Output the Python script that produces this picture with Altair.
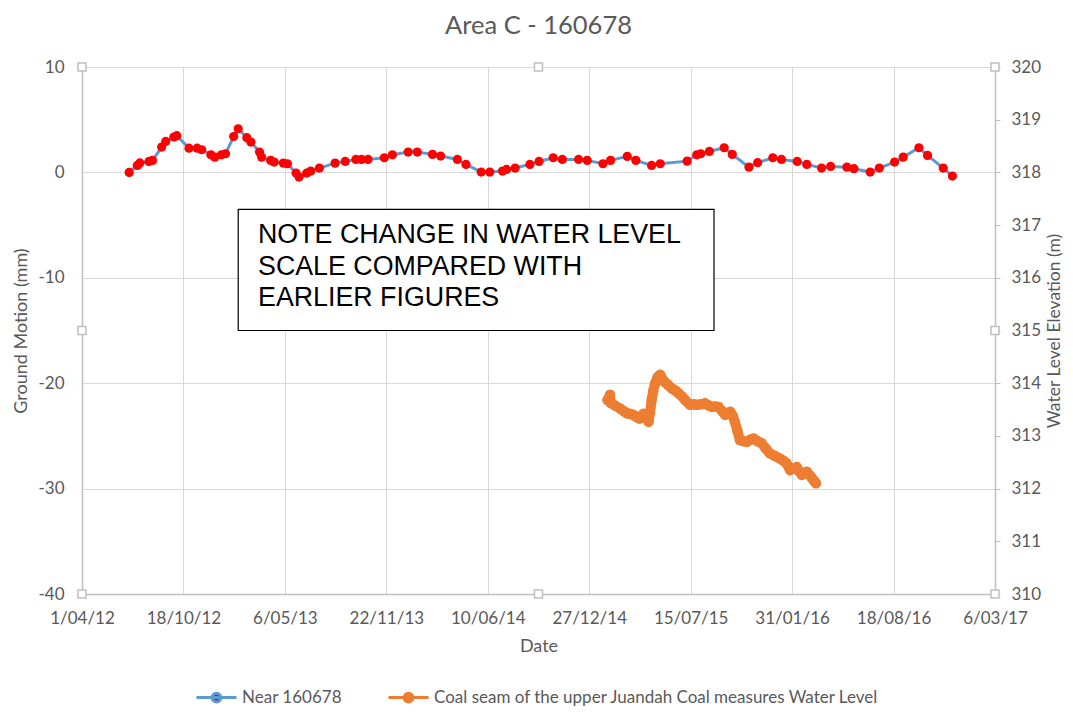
import altair as alt
import pandas as pd

START = pd.Timestamp("2012-04-01")

# Ground motion (left axis), days since 1/04/12
gm_days = [93, 109, 114, 132, 139, 157, 165, 181, 187, 211,
           227, 236, 254, 262, 275, 283, 299, 308, 325, 333,
           350, 354, 372, 379, 397, 405, 422, 428, 443, 451,
           468, 499, 519, 540, 551, 564, 596, 612, 643, 661,
           691, 707, 740, 757, 787, 804, 829, 837, 854, 883,
           901, 929, 947, 979, 996, 1027, 1042, 1075, 1092, 1123,
           1140, 1193, 1212, 1220, 1237, 1266, 1282, 1315, 1332, 1362,
           1379, 1410, 1429, 1458, 1476, 1508, 1522, 1554, 1572, 1602,
           1619, 1650, 1667, 1698, 1716]
gm_mm = [0.0, 0.66, 0.9, 1.04, 1.14, 2.4, 2.94, 3.35, 3.48, 2.3,
         2.3, 2.15, 1.67, 1.45, 1.67, 1.77, 3.4, 4.14, 3.29, 2.88,
         1.93, 1.45, 1.14, 0.98, 0.88, 0.82, -0.06, -0.44, -0.06, 0.13,
         0.41, 0.88, 1.04, 1.23, 1.23, 1.23, 1.39, 1.67, 1.93, 1.93,
         1.71, 1.55, 1.23, 0.76, 0.03, 0.03, 0.13, 0.28, 0.41, 0.76,
         1.04, 1.39, 1.23, 1.23, 1.14, 0.82, 1.14, 1.52, 1.14, 0.66,
         0.82, 1.07, 1.67, 1.77, 1.99, 2.34, 1.71, 0.5, 0.92, 1.39,
         1.23, 1.04, 0.76, 0.41, 0.57, 0.5, 0.35, 0.03, 0.41, 0.98,
         1.45, 2.34, 1.61, 0.41, -0.35]

# Water level (right axis)
wl_days = [1036, 1041, 1042, 1050, 1061, 1068, 1074, 1080, 1087, 1093,
           1099, 1103, 1107, 1112, 1117, 1120, 1123, 1126, 1130, 1135,
           1140, 1148, 1155, 1163, 1170, 1176, 1183, 1189, 1199, 1206,
           1212, 1220, 1228, 1235, 1242, 1249, 1255, 1262, 1268, 1273,
           1278, 1283, 1287, 1292, 1297, 1304, 1311, 1318, 1324, 1332,
           1340, 1348, 1356, 1366, 1376, 1383, 1389, 1396, 1402, 1409,
           1414, 1419, 1424, 1429, 1434, 1439, 1443, 1447]
wl_m = [313.68, 313.78, 313.63, 313.58, 313.52, 313.47, 313.43, 313.42, 313.40, 313.36,
        313.33, 313.38, 313.42, 313.35, 313.27, 313.45, 313.68, 313.85, 314.0, 314.12,
        314.16, 314.03, 313.97, 313.90, 313.86, 313.81, 313.75, 313.68, 313.59, 313.60,
        313.59, 313.60, 313.62, 313.58, 313.55, 313.56, 313.55, 313.47, 313.40, 313.43,
        313.46, 313.38, 313.27, 313.10, 312.92, 312.90, 312.89, 312.93, 312.95, 312.90,
        312.86, 312.76, 312.67, 312.62, 312.57, 312.53, 312.48, 312.35, 312.38, 312.41,
        312.33, 312.26, 312.30, 312.32, 312.26, 312.20, 312.15, 312.10]

S1 = "Near 160678"
S2 = "Coal seam of the upper Juandah Coal measures Water Level"
series_names = [S1, S2]
line_colors = ["#5B9BD5", "#ED7D31"]
dot_colors = ["#FF0000", "#ED7D31"]

tick_days = [0, 200, 400, 600, 800, 1000, 1200, 1400, 1600, 1800]
gm_ticks = [-40, -30, -20, -10, 0, 10]
wl_ticks = [310, 311, 312, 313, 314, 315, 316, 317, 318, 319, 320]

note_lines = ["NOTE CHANGE IN WATER LEVEL", "SCALE COMPARED WITH", "EARLIER FIGURES"]


def day_to_date(d):
    return (START + pd.Timedelta(days=d)).strftime("%Y-%m-%d")


def day_to_dt(d):
    t = START + pd.Timedelta(days=d)
    return alt.DateTime(year=t.year, month=t.month, date=t.day, utc=True)


gm_df = pd.DataFrame({"date": [day_to_date(d) for d in gm_days], "value": gm_mm, "series": S1})
wl_df = pd.DataFrame({"date": [day_to_date(d) for d in wl_days], "value": wl_m, "series": S2})

# annotation box & text (in ground-motion data units)
box_df = pd.DataFrame({"date": [day_to_date(308)], "date2": [day_to_date(1246)],
                       "value": [-3.5], "value2": [-15.0]})
text_df = pd.DataFrame({"date": [day_to_date(347)], "value": [-4.75], "text": [note_lines]})

# chart-area selection handles (domain corners / mid-points)
h_days = [0, 900, 1800, 0, 1800, 0, 900, 1800]
h_vals = [10, 10, 10, -15, -15, -40, -40, -40]
handle_df = pd.DataFrame({"date": [day_to_date(d) for d in h_days], "value": h_vals})

FONT = "Lato"
GRAY = "#595959"
AXIS_LINE = "#BFBFBF"
GRID = "#D9D9D9"

x_scale = alt.Scale(type="utc", domain=[day_to_dt(0), day_to_dt(1800)], nice=False)
x_axis = alt.Axis(values=[day_to_dt(d) for d in tick_days], format="%-d/%m/%y",
                  grid=True, gridColor=GRID, ticks=False, tickSize=0,
                  domainColor=AXIS_LINE, domainWidth=1.5, labelPadding=16,
                  labelFont=FONT, labelFontSize=17, labelColor=GRAY, labelFlush=False,
                  labelOverlap=False,
                  title="Date", titleFont=FONT, titleFontSize=18, titleColor=GRAY,
                  titleFontWeight="normal", titlePadding=11, zindex=0)


def xe(field="date"):
    return alt.X(f"{field}:T", scale=x_scale, axis=x_axis, title="Date")


gm_scale = alt.Scale(domain=[-40, 10], nice=False, zero=False)
gm_axis = alt.Axis(values=gm_ticks, orient="left", grid=True, gridColor=GRID,
                   ticks=False, tickSize=0, domainColor=AXIS_LINE, domainWidth=1.5,
                   labelPadding=18, labelFont=FONT, labelFontSize=17, labelColor=GRAY,
                   labelFlush=False, labelExpr="'' + datum.value",
                   title="Ground Motion (mm)", titleFont=FONT, titleFontSize=18,
                   titleColor=GRAY, titleFontWeight="normal", titlePadding=7, zindex=0)

wl_scale = alt.Scale(domain=[310, 320], nice=False, zero=False)
wl_axis = alt.Axis(values=wl_ticks, orient="right", grid=False, ticks=True, tickSize=5,
                   tickColor=AXIS_LINE, domainColor=AXIS_LINE, domainWidth=1.5,
                   labelPadding=11, labelFont=FONT, labelFontSize=17, labelColor=GRAY,
                   labelFlush=False,
                   title="Water Level Elevation (m)", titleFont=FONT, titleFontSize=17.5,
                   titleColor=GRAY, titleFontWeight="normal", titlePadding=23,
                   titleAngle=270, zindex=0)


def ye_gm(field="value"):
    return alt.Y(f"{field}:Q", scale=gm_scale, axis=gm_axis, title="Ground Motion (mm)")


SYMBOL = "M-2,0H2M-0.44,0A0.44,0.44,0,1,1,0.44,0A0.44,0.44,0,1,1,-0.44,0Z"
legend = alt.Legend(title=None, orient="none", legendX=123, legendY=619,
                    direction="horizontal", symbolType=SYMBOL, symbolSize=400,
                    symbolStrokeWidth=3, labelFont=FONT, labelFontSize=17,
                    labelColor=GRAY, labelOffset=14, labelLimit=800, columnPadding=40,
                    padding=0)

stroke_enc = alt.Stroke("series:N", scale=alt.Scale(domain=series_names, range=line_colors),
                        legend=legend)
fill_enc = alt.Fill("series:N", scale=alt.Scale(domain=series_names, range=dot_colors),
                    legend=legend)

box = alt.Chart(box_df).mark_rect(fill="white", stroke="black", strokeWidth=1.2).encode(
    x=xe(), x2="date2:T", y=ye_gm(), y2="value2:Q")

note = alt.Chart(text_df).mark_text(align="left", baseline="top", font="Liberation Sans",
                                    fontSize=26.8, lineHeight=31.5, color="black").encode(
    x=xe(), y=ye_gm(), text="text")

gm_line = alt.Chart(gm_df).mark_line(strokeWidth=3).encode(x=xe(), y=ye_gm(), stroke=stroke_enc)
gm_pts = alt.Chart(gm_df).mark_circle(size=85, opacity=1).encode(x=xe(), y=ye_gm(), fill=fill_enc)

handles = alt.Chart(handle_df).mark_square(size=64, fill="white", stroke="#BFBFBF",
                                           strokeWidth=1.5, opacity=1, filled=True).encode(
    x=xe(), y=ye_gm())

gm_layer = alt.layer(box, note, gm_line, gm_pts, handles)

ye_wl = alt.Y("value:Q", scale=wl_scale, axis=wl_axis, title="Water Level Elevation (m)")
wl_line = alt.Chart(wl_df).mark_line(strokeWidth=10, strokeCap="round", strokeJoin="round").encode(
    x=xe(), y=ye_wl, stroke=stroke_enc)
wl_pts = alt.Chart(wl_df).mark_circle(size=110, opacity=1).encode(x=xe(), y=ye_wl, fill=fill_enc)
wl_layer = alt.layer(wl_line, wl_pts)

chart = alt.layer(gm_layer, wl_layer).resolve_scale(y="independent").properties(
    width=913, height=527,
    autosize=alt.AutoSizeParams(type="none"),
    padding={"left": 74, "top": 59, "right": 70, "bottom": 113},
    title=alt.TitleParams("Area C - 160678", font=FONT, fontSize=25.5, color=GRAY,
                          fontWeight="normal", anchor="middle", frame="group", offset=19),
    background="white",
).configure_view(strokeWidth=0)

chart.save("out.html", embed_options={"renderer": "svg", "actions": False})
